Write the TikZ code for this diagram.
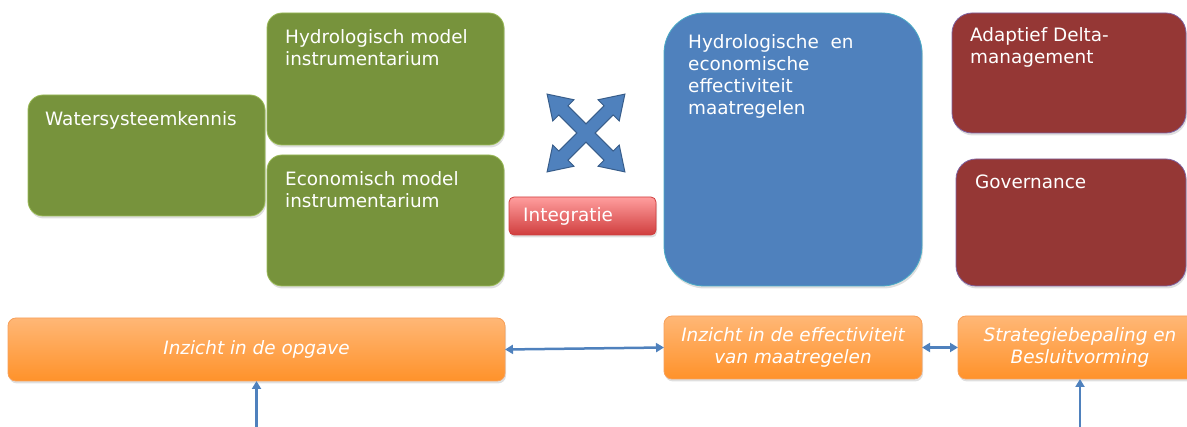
\documentclass[tikz,border=0pt]{standalone}
\usepackage{fontspec}
\setmainfont{DejaVu Sans}
\usepackage{xcolor}
\usetikzlibrary{arrows.meta, positioning, shadows}

\definecolor{groen}{RGB}{119,147,60}
\definecolor{groenrand}{RGB}{155,187,89}
\definecolor{blauw}{RGB}{79,129,189}
\definecolor{blauwrand}{RGB}{75,172,198}
\definecolor{rood}{RGB}{149,55,53}
\definecolor{roodrand}{RGB}{128,100,162}
\definecolor{oranjeboven}{RGB}{255,183,118}
\definecolor{oranjeonder}{RGB}{255,146,42}
\definecolor{oranjerand}{RGB}{247,160,90}
\definecolor{lichtrood}{RGB}{255,158,158}
\definecolor{donkerrood}{RGB}{208,62,62}
\definecolor{pijlblauw}{RGB}{79,129,189}
\definecolor{kruisrand}{RGB}{56,93,138}

\begin{document}
\begin{tikzpicture}[
    x=1pt, y=-1pt,
    font=\fontsize{18.4}{22}\selectfont,
    blok/.style={draw, line width=0.8pt, inner sep=0pt, outer sep=0pt, anchor=north west,
        drop shadow={opacity=0.25, shadow xshift=1pt, shadow yshift=-2.5pt}},
    groenblok/.style={blok, draw=groenrand, fill=groen, rounded corners=15pt, minimum width=237pt},
    roodblok/.style={blok, draw=roodrand, fill=rood, rounded corners=20pt},
    oranjeblok/.style={blok, draw=oranjerand, top color=oranjeboven, bottom color=oranjeonder,
        rounded corners=8pt, minimum height=63pt, text=white, align=center,
        font=\fontsize{18.4}{22}\selectfont\itshape},
    tekst/.style={text=white, align=left, inner sep=0pt, anchor=north west},
    pijl/.style={draw=pijlblauw, line width=2.5pt, -{Triangle[length=8pt,width=9pt]}},
    dubbelpijl/.style={pijl, {Triangle[length=8pt,width=9pt]}-{Triangle[length=8pt,width=9pt]}}
]
    \useasboundingbox (0,0) rectangle (1187,427);

    % bovenste rij
    \node[groenblok, minimum height=121pt,
        label={[tekst, xshift=17pt, yshift=-16pt]north west:Watersysteemkennis}] (water) at (28,95) {};
    \node[groenblok, minimum height=132pt,
        label={[tekst, xshift=18pt, yshift=-16pt]north west:{Hydrologisch model\\instrumentarium}}] (hydro) at (267,13) {};
    \node[groenblok, minimum height=131pt, anchor=north, below=10pt of hydro,
        label={[tekst, xshift=18pt, yshift=-16pt]north west:{Economisch model\\instrumentarium}}] (econ) {};
    \node[blok, draw=donkerrood, top color=lichtrood, bottom color=donkerrood, rounded corners=5pt,
        minimum width=147pt, minimum height=38pt,
        label={[tekst, anchor=west, xshift=14pt]west:Integratie}] (integratie) at (509,197) {};
    \node[blok, draw=blauwrand, fill=blauw, rounded corners=40pt, minimum width=258pt, minimum height=273pt,
        label={[tekst, xshift=24pt, yshift=-21pt]north west:{Hydrologische~ en\\economische\\effectiviteit\\maatregelen}}] (effect) at (664,13) {};
    \node[roodblok, minimum width=234pt, minimum height=120pt,
        label={[tekst, xshift=18pt, yshift=-14pt]north west:{Adaptief Delta-\\management}}] (adaptief) at (952,13) {};
    \node[roodblok, minimum width=230pt, minimum height=127pt,
        label={[tekst, xshift=19pt, yshift=-16pt]north west:Governance}] (governance) at (956,159) {};

    % kruispijl
    \begin{scope}[shift={(586,133)}, rotate=45]
        \filldraw[fill=blauw, draw=kruisrand, line width=1pt, line join=miter] (6.5,6.5)
            \foreach \r in {0,90,180,270} {
                -- ([rotate=\r]6.5,6.5) -- ([rotate=\r]32,6.5) -- ([rotate=\r]32,15)
                -- ([rotate=\r]55,0) -- ([rotate=\r]32,-15) -- ([rotate=\r]32,-6.5)
            } -- cycle;
    \end{scope}

    % onderste rij
    \node[oranjeblok, minimum width=497pt] (opgave) at (8,318) {Inzicht in de opgave};
    \node[oranjeblok, minimum width=258pt] (inzicht) at (664,316) {Inzicht in de effectiviteit\\van maatregelen};
    \node[oranjeblok, minimum width=244pt] (strategie) at (958,316) {Strategiebepaling en\\Besluitvorming};

    \coordinate (voet1) at (opgave.south |- 0,427);
    \coordinate (voet2) at (strategie.south |- 0,427);

    \draw[dubbelpijl] (opgave.east) -- (inzicht.west);
    \draw[dubbelpijl] (inzicht.east) -- (strategie.west);
    \draw[pijl] (voet1) -- (opgave.south);
    \draw[pijl] (voet2) -- (strategie.south);
\end{tikzpicture}
\end{document}
